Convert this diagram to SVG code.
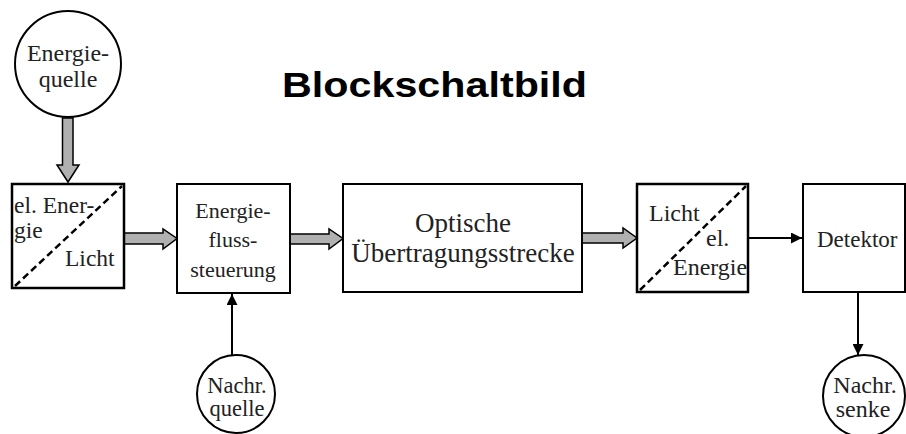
<svg xmlns="http://www.w3.org/2000/svg" width="906" height="434" viewBox="0 0 906 434">
<style>
.box{fill:#fff;stroke:#000;stroke-width:2}
.thick{stroke-width:2.5}
.circ{fill:#fff;stroke:#000;stroke-width:2}
.dash{stroke:#000;stroke-width:2.5;stroke-dasharray:7,4;fill:none}
.garrow{fill:#b0b0b0;stroke:#000;stroke-width:1.5;stroke-linejoin:miter}
.line{stroke:#000;stroke-width:2;fill:none}
text.s{font-family:'Liberation Serif','Times New Roman',serif;fill:#222}
</style>
<defs>
<marker id="ah" viewBox="0 0 10 10" refX="10" refY="5" markerWidth="12" markerHeight="11" markerUnits="userSpaceOnUse" orient="auto">
<path d="M0,0 L10,5 L0,10 Z" fill="#000"/>
</marker>
</defs>
<rect width="906" height="434" fill="#fff"/>
<text x="282" y="97" font-family="Liberation Sans, Arial, sans-serif" font-weight="bold" font-size="35" textLength="305" lengthAdjust="spacingAndGlyphs" fill="#000">Blockschaltbild</text>

<g id="connectors">
<path class="garrow" d="M62.5,118 L73,118 L73,165 L79,165 L68,182 L57,165 L62.5,165 Z"/>
<path class="garrow" d="M124,233 L163,233 L163,229 L177,238.5 L163,249 L163,244 L124,244 Z"/>
<path class="garrow" d="M290,234 L329,234 L329,229 L343,238.5 L329,249 L329,244 L290,244 Z"/>
<path class="garrow" d="M582,233 L623,233 L623,228 L637,238 L623,248 L623,243 L582,243 Z"/>
<line class="line" x1="748" y1="238" x2="802" y2="238" marker-end="url(#ah)"/>
<line class="line" x1="232" y1="355" x2="232" y2="294" marker-end="url(#ah)"/>
<line class="line" x1="858" y1="292" x2="858" y2="355" marker-end="url(#ah)"/>
</g>

<g id="energiequelle">
<circle class="circ" cx="68" cy="64" r="53"/>
<text class="s" x="68" y="61" font-size="24" text-anchor="middle">Energie-</text>
<text class="s" x="68" y="87" font-size="24" text-anchor="middle">quelle</text>
</g>

<g id="el-energie-licht">
<rect class="box thick" x="12" y="184" width="112" height="104"/>
<line class="dash" x1="15" y1="286" x2="122" y2="186"/>
<text class="s" x="14" y="213" font-size="23.5">el. Ener-</text>
<text class="s" x="14" y="238" font-size="23.5">gie</text>
<text class="s" x="65" y="266" font-size="23.5">Licht</text>
</g>

<g id="energieflusssteuerung">
<rect class="box" x="177" y="184" width="113" height="109"/>
<text class="s" x="233" y="218" font-size="22" text-anchor="middle">Energie-</text>
<text class="s" x="233" y="247" font-size="22" text-anchor="middle">fluss-</text>
<text class="s" x="233" y="277" font-size="22" text-anchor="middle">steuerung</text>
</g>

<g id="optische-uebertragungsstrecke">
<rect class="box" x="343" y="184" width="239" height="108"/>
<text class="s" x="463" y="232" font-size="27" text-anchor="middle">Optische</text>
<text class="s" x="463" y="262" font-size="27" text-anchor="middle">Übertragungsstrecke</text>
</g>

<g id="licht-el-energie">
<rect class="box thick" x="637" y="184" width="111" height="108"/>
<line class="dash" x1="640" y1="290" x2="746" y2="186"/>
<text class="s" x="649" y="221" font-size="24">Licht</text>
<text class="s" x="706" y="246" font-size="24">el.</text>
<text class="s" x="673" y="275" font-size="24">Energie</text>
</g>

<g id="detektor">
<rect class="box" x="803" y="184" width="102" height="108"/>
<text class="s" x="817" y="247" font-size="23">Detektor</text>
</g>

<g id="nachr-quelle">
<circle class="circ" cx="236" cy="394" r="39"/>
<text class="s" x="237" y="393" font-size="22.5" text-anchor="middle">Nachr.</text>
<text class="s" x="237" y="416" font-size="22.5" text-anchor="middle">quelle</text>
</g>

<g id="nachr-senke">
<circle class="circ" cx="864" cy="396" r="41"/>
<text class="s" x="865" y="393" font-size="24" text-anchor="middle">Nachr.</text>
<text class="s" x="863" y="417" font-size="24" text-anchor="middle">senke</text>
</g>
</svg>
